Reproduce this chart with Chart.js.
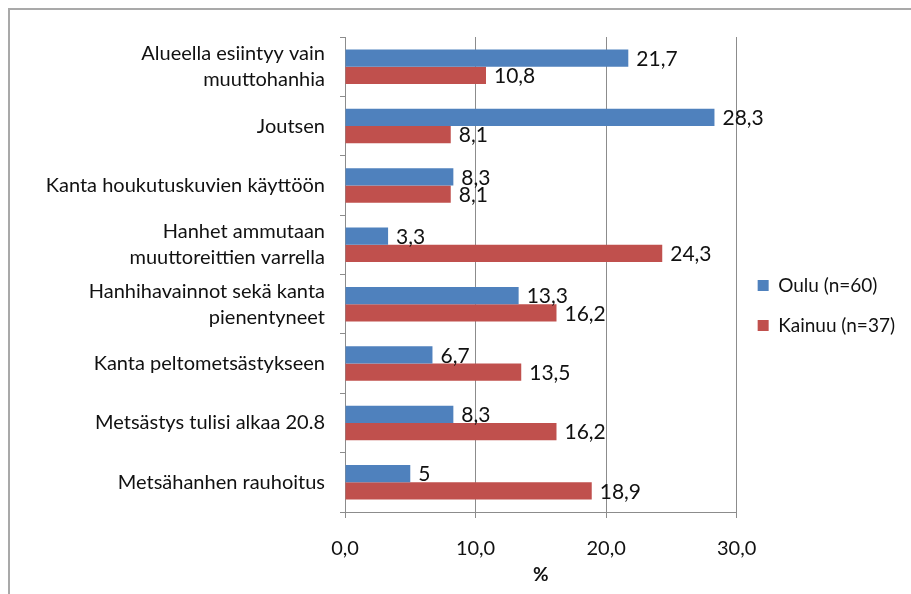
<!DOCTYPE html>
<html>
<head>
<meta charset="utf-8">
<script src="https://cdn.jsdelivr.net/npm/chart.js@4"></script>
<style>
  html, body { margin: 0; padding: 0; background: #fff; }
  #wrap { position: relative; width: 911px; height: 594px; }
  #frame { position: absolute; left: 8px; top: 8px; right: 0; bottom: 0;
           border-left: 2px solid #a9a9a9; border-top: 2px solid #a9a9a9; pointer-events: none; }
</style>
</head>
<body>
<div id="wrap">
  <canvas id="myChart" width="911" height="594"></canvas>
  <div id="frame"></div>
</div>
<script>
var categories = [
  ['Alueella esiintyy vain', 'muuttohanhia'],
  'Joutsen',
  'Kanta houkutuskuvien käyttöön',
  ['Hanhet ammutaan', 'muuttoreittien varrella'],
  ['Hanhihavainnot sekä kanta', 'pienentyneet'],
  'Kanta peltometsästykseen',
  'Metsästys tulisi alkaa 20.8',
  'Metsähanhen rauhoitus'
];
var ouluValues = [21.7, 28.3, 8.3, 3.3, 13.3, 6.7, 8.3, 5];
var kainuuValues = [10.8, 8.1, 8.1, 24.3, 16.2, 13.5, 16.2, 18.9];
var xTicks = [0, 10, 20, 30];

var fontFamily = 'Lato, "Liberation Sans", sans-serif';
Chart.defaults.font.family = fontFamily;
Chart.defaults.color = '#111';

// value labels next to the bar ends, Finnish decimal comma
var barValueLabels = {
  id: 'barValueLabels',
  afterDatasetsDraw: function(chart) {
    var ctx = chart.ctx;
    ctx.save();
    ctx.font = '21px ' + fontFamily;
    ctx.fillStyle = '#111';
    ctx.textAlign = 'left';
    ctx.textBaseline = 'middle';
    chart.data.datasets.forEach(function(ds, i) {
      chart.getDatasetMeta(i).data.forEach(function(bar, j) {
        var txt = String(ds.data[j]).replace('.', ',');
        ctx.fillText(txt, bar.x + 8, bar.y + 1);
      });
    });
    ctx.restore();
  }
};

var ctx = document.getElementById('myChart').getContext('2d');
var myChart = new Chart(ctx, {
  type: 'bar',
  data: {
    labels: categories,
    datasets: [{
      label: 'Oulu (n=60)',
      data: ouluValues,
      backgroundColor: '#4f81bd',
      barPercentage: 1,
      categoryPercentage: 0.58
    }, {
      label: 'Kainuu (n=37)',
      data: kainuuValues,
      backgroundColor: '#c0504d',
      barPercentage: 1,
      categoryPercentage: 0.58
    }]
  },
  options: {
    indexAxis: 'y',
    responsive: false,
    animation: false,
    layout: { padding: { top: 37, left: 0, right: 6, bottom: 20 } },
    plugins: {
      tooltip: { enabled: false },
      legend: {
        position: 'right',
        labels: {
          boxWidth: 11,
          boxHeight: 11,
          padding: 21,
          color: '#111',
          font: { size: 19 }
        }
      }
    },
    scales: {
      x: {
        min: 0,
        max: 30,
        afterBuildTicks: function(scale) {
          scale.ticks = xTicks.map(function(v) { return { value: v }; });
        },
        afterFit: function(scale) { scale.height = 62; },
        ticks: {
          padding: 19,
          font: { size: 20 },
          color: '#111',
          callback: function(v) { return v.toFixed(1).replace('.', ','); }
        },
        grid: { color: '#8c8c8c', tickLength: 6 },
        border: { color: '#8c8c8c' },
        title: { display: true, text: '%', font: { size: 19, weight: 'bold' }, padding: { top: 0, bottom: -12 } }
      },
      y: {
        afterFit: function(scale) { scale.width = 345; },
        ticks: { padding: 15, font: { size: 20, lineHeight: 1.3 }, color: '#111' },
        grid: { drawOnChartArea: false, color: '#8c8c8c', tickLength: 5 },
        border: { color: '#8c8c8c' }
      }
    }
  },
  plugins: [barValueLabels]
});
</script>
</body>
</html>
